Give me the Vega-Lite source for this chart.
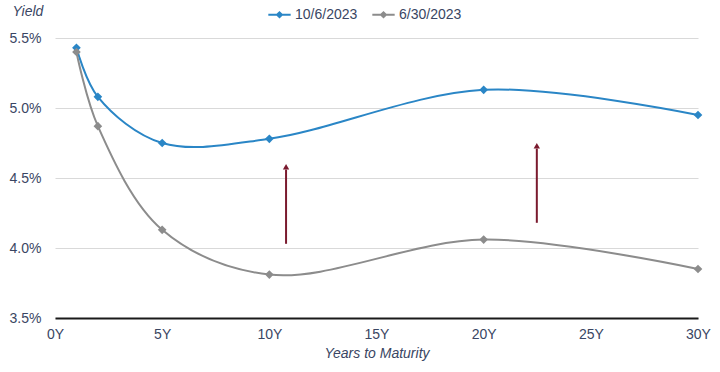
{
  "$schema": "https://vega.github.io/schema/vega-lite/v6.json",
  "width": 643,
  "height": 280,
  "autosize": "none",
  "padding": {"left": 55, "top": 38, "right": 22, "bottom": 54},
  "background": "white",
  "config": {
    "font": "Liberation Sans",
    "view": {"stroke": null},
    "axis": {"labelFont": "Liberation Sans", "titleFont": "Liberation Sans", "labelColor": "#3a4663", "titleColor": "#3a4663", "labelFontSize": 14, "titleFontSize": 14, "titleFontWeight": "normal", "titleFontStyle": "italic"},
    "legend": {"labelFont": "Liberation Sans", "labelFontSize": 14, "labelColor": "#3a4663"}
  },
  "datasets": {
    "curves": [
      {"series": "10/6/2023", "years": 1, "yield": 5.43},
      {"series": "10/6/2023", "years": 2, "yield": 5.08},
      {"series": "10/6/2023", "years": 5, "yield": 4.75},
      {"series": "10/6/2023", "years": 10, "yield": 4.78},
      {"series": "10/6/2023", "years": 20, "yield": 5.13},
      {"series": "10/6/2023", "years": 30, "yield": 4.95},
      {"series": "6/30/2023", "years": 1, "yield": 5.40},
      {"series": "6/30/2023", "years": 2, "yield": 4.87},
      {"series": "6/30/2023", "years": 5, "yield": 4.13},
      {"series": "6/30/2023", "years": 10, "yield": 3.81},
      {"series": "6/30/2023", "years": 20, "yield": 4.06},
      {"series": "6/30/2023", "years": 30, "yield": 3.85}
    ],
    "arrows": [
      {"years": 10.78, "start": 4.03, "end": 4.56, "tip": 4.58},
      {"years": 22.48, "start": 4.18, "end": 4.71, "tip": 4.73}
    ]
  },
  "layer": [
    {
      "data": {"name": "curves"},
      "mark": {"type": "line", "interpolate": "catmull-rom", "strokeWidth": 2},
      "encoding": {
        "x": {"field": "years", "type": "quantitative", "scale": {"domain": [0, 30]},
          "axis": {"title": "Years to Maturity", "values": [0, 5, 10, 15, 20, 25, 30], "labelExpr": "datum.value + 'Y'", "labelFlush": false, "grid": false, "ticks": false, "domainColor": "#1a1a1a", "domainWidth": 2, "labelPadding": 9, "titlePadding": 5}},
        "y": {"field": "yield", "type": "quantitative", "scale": {"domain": [3.5, 5.5], "nice": false, "zero": false},
          "axis": {"title": "Yield", "values": [3.5, 4.0, 4.5, 5.0, 5.5], "labelExpr": "format(datum.value, '.1f') + '%'", "domain": false, "ticks": false, "gridColor": "#d9d9d9", "labelPadding": 14, "titleAngle": 0, "titleAlign": "left", "titleX": -43, "titleY": -20}},
        "color": {"field": "series", "type": "nominal", "sort": ["10/6/2023", "6/30/2023"],
          "scale": {"domain": ["10/6/2023", "6/30/2023"], "range": ["#2a86c6", "#8c8c8c"]},
          "legend": {"title": null, "orient": "none", "direction": "horizontal", "legendX": 212, "legendY": -36, "symbolType": "M-1,0L1,0M-0.22,0L0,-0.22L0.22,0L0,0.22Z", "symbolSize": 500, "symbolStrokeWidth": 2, "columnPadding": 10, "labelOffset": 3,
            "encode": {"symbols": {"update": {"fill": {"scale": "color", "field": "value"}, "stroke": {"scale": "color", "field": "value"}}}}}}
      }
    },
    {
      "data": {"name": "curves"},
      "mark": {"type": "point", "shape": "diamond", "filled": true, "opacity": 1, "size": 75},
      "encoding": {
        "x": {"field": "years", "type": "quantitative"},
        "y": {"field": "yield", "type": "quantitative"},
        "color": {"field": "series", "type": "nominal", "legend": null}
      }
    },
    {
      "data": {"name": "arrows"},
      "mark": {"type": "rule", "color": "#7a1a2e", "strokeWidth": 2},
      "encoding": {
        "x": {"field": "years", "type": "quantitative"},
        "y": {"field": "start", "type": "quantitative"},
        "y2": {"field": "end"}
      }
    },
    {
      "data": {"name": "arrows"},
      "mark": {"type": "point", "shape": "triangle-up", "filled": true, "color": "#7a1a2e", "opacity": 1, "size": 40},
      "encoding": {
        "x": {"field": "years", "type": "quantitative"},
        "y": {"field": "tip", "type": "quantitative"}
      }
    }
  ]
}
